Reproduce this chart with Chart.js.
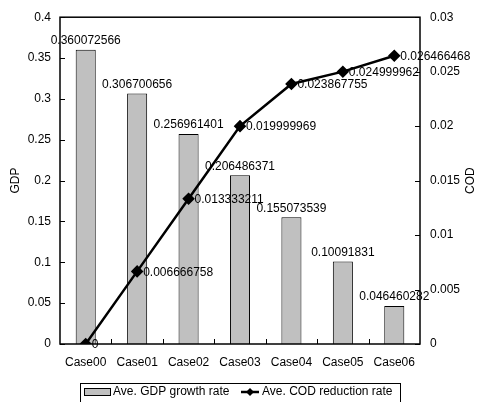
<!DOCTYPE html>
<html>
<head>
<meta charset="utf-8">
<script src="https://cdn.jsdelivr.net/npm/chart.js@4"></script>
<style>
  html, body { margin: 0; padding: 0; background: #fff; }
  #wrap { width: 478px; height: 402px; }
</style>
</head>
<body>
<div id="wrap"><canvas id="chart" width="478" height="402"></canvas></div>
<script>
// values
const cases = ['Case00', 'Case01', 'Case02', 'Case03', 'Case04', 'Case05', 'Case06'];
const gdpGrowth = [0.360072566, 0.306700656, 0.256961401, 0.206486371, 0.155073539, 0.10091831, 0.046460282];
const codReduction = [0, 0.006666758, 0.013333211, 0.019999969, 0.023867755, 0.024999962, 0.026466468];
const gdpLabel = 'Ave. GDP growth rate';
const codLabel = 'Ave. COD reduction rate';

const FONT = '"Liberation Sans", Arial, sans-serif';
const fmt = v => String(+Number(v).toFixed(4));

// frame, inward tick marks, value labels, right title and the boxed legend
const decorPlugin = {
    id: 'decor',
    afterDatasetsDraw(chart) {
        const ctx = chart.ctx;
        const { left, right, top, bottom } = chart.chartArea;
        const x = chart.scales.x, y = chart.scales.y, y1 = chart.scales.y1;
        ctx.save();
        ctx.strokeStyle = '#000';
        ctx.lineWidth = 1.5;
        ctx.strokeRect(left, top, right - left, bottom - top);

        ctx.lineWidth = 1;
        ctx.beginPath();
        y.ticks.forEach(t => {
            const p = Math.round(y.getPixelForValue(t.value)) + 0.5;
            ctx.moveTo(left, p); ctx.lineTo(left + 5, p);
        });
        y1.ticks.forEach(t => {
            const p = Math.round(y1.getPixelForValue(t.value)) + 0.5;
            ctx.moveTo(right - 5, p); ctx.lineTo(right, p);
        });
        for (let i = 0; i < cases.length - 1; i++) {
            const p = Math.round((x.getPixelForValue(i) + x.getPixelForValue(i + 1)) / 2) + 0.5;
            ctx.moveTo(p, bottom); ctx.lineTo(p, bottom - 5);
        }
        ctx.stroke();

        // value labels
        ctx.fillStyle = '#000';
        ctx.font = '12px ' + FONT;
        ctx.textBaseline = 'middle';
        ctx.textAlign = 'center';
        chart.getDatasetMeta(0).data.forEach((bar, i) => {
            ctx.fillText(String(gdpGrowth[i]), bar.x, bar.y - 9);
        });
        ctx.textAlign = 'left';
        chart.getDatasetMeta(1).data.forEach((pt, i) => {
            ctx.fillText(String(codReduction[i]), pt.x + 6, pt.y + 1);
        });

        // right axis title, read bottom to top like the left one
        ctx.save();
        ctx.translate(471, (top + bottom) / 2);
        ctx.rotate(-Math.PI / 2);
        ctx.textAlign = 'center';
        ctx.fillText('COD', 0, 0);
        ctx.restore();

        // legend
        ctx.lineWidth = 1;
        ctx.strokeRect(80.5, 383.5, 320, 30);
        ctx.fillStyle = '#c0c0c0';
        ctx.fillRect(84, 388, 26, 7);
        ctx.strokeRect(84.5, 388.5, 26, 7);
        ctx.fillStyle = '#000';
        ctx.fillText(gdpLabel, 113, 392);
        ctx.lineWidth = 2.5;
        ctx.beginPath();
        ctx.moveTo(241, 392); ctx.lineTo(259, 392);
        ctx.stroke();
        ctx.beginPath();
        ctx.moveTo(246, 392); ctx.lineTo(250, 388); ctx.lineTo(254, 392); ctx.lineTo(250, 396);
        ctx.closePath();
        ctx.fill();
        ctx.fillText(codLabel, 262, 392);
        ctx.restore();
    }
};

const tickFont = { family: FONT, size: 12 };

new Chart(document.getElementById('chart').getContext('2d'), {
    data: {
        labels: cases,
        datasets: [
            {
                type: 'bar',
                label: gdpLabel,
                data: gdpGrowth,
                yAxisID: 'y',
                backgroundColor: '#c0c0c0',
                borderColor: '#000',
                borderWidth: 1,
                barPercentage: 0.39,
                categoryPercentage: 1,
                order: 1
            },
            {
                type: 'line',
                label: codLabel,
                data: codReduction,
                yAxisID: 'y1',
                borderColor: '#000',
                backgroundColor: '#000',
                borderWidth: 2.5,
                pointStyle: 'rectRot',
                pointRadius: 4.5,
                pointBackgroundColor: '#000',
                pointBorderColor: '#000',
                tension: 0,
                order: 0
            }
        ]
    },
    options: {
        responsive: false,
        animation: false,
        layout: { padding: { top: 11, bottom: 28, left: 0, right: 0 } },
        plugins: {
            legend: { display: false },
            tooltip: { enabled: false }
        },
        scales: {
            x: {
                offset: true,
                grid: { display: false, drawTicks: false },
                border: { display: false },
                ticks: { color: '#000', font: tickFont, padding: 11 },
                afterFit: s => { s.height = 30; }
            },
            y: {
                position: 'left',
                min: 0, max: 0.4,
                grid: { display: false, drawTicks: false },
                border: { display: false },
                ticks: { stepSize: 0.05, color: '#000', font: tickFont, padding: 9, callback: fmt },
                title: { display: true, text: 'GDP', color: '#000', font: tickFont, padding: { top: 8, bottom: 0 } },
                afterFit: s => { s.width = 60; }
            },
            y1: {
                position: 'right',
                min: 0, max: 0.03,
                grid: { display: false, drawTicks: false },
                border: { display: false },
                ticks: { stepSize: 0.005, color: '#000', font: tickFont, padding: 10, callback: fmt },
                afterFit: s => { s.width = 58; }
            }
        }
    },
    plugins: [decorPlugin]
});
</script>
</body>
</html>
